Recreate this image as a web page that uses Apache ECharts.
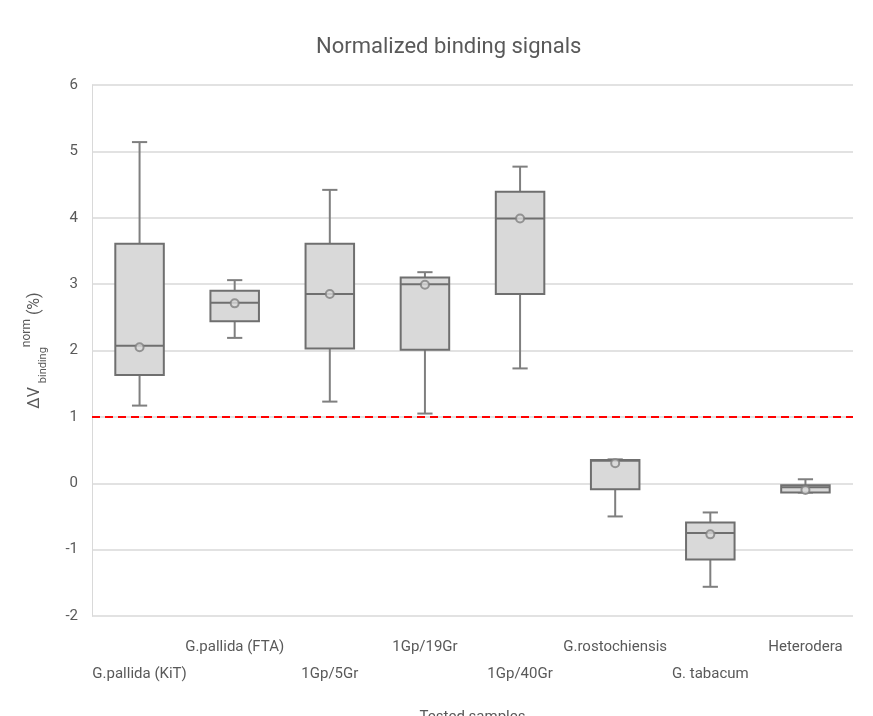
<!DOCTYPE html>
<html>
<head>
<meta charset="utf-8">
<script src="https://cdn.jsdelivr.net/npm/echarts@6/dist/echarts.min.js"></script>
<style>html,body{margin:0;padding:0;background:#fff;}#c{width:873px;height:716px;}</style>
</head>
<body>
<div id="c"></div>
<script>
const categories = ['G.pallida (KiT)','G.pallida (FTA)','1Gp/5Gr','1Gp/19Gr','1Gp/40Gr','G.rostochiensis','G. tabacum','Heterodera'];
const whiskerLow  = [1.17, 2.19, 1.23, 1.05, 1.73, -0.50, -1.56, -0.14];
const q1          = [1.63, 2.44, 2.03, 2.01, 2.85, -0.09, -1.15, -0.14];
const median      = [2.07, 2.72, 2.85, 3.00, 3.99, 0.34, -0.75, -0.06];
const q3          = [3.61, 2.90, 3.61, 3.10, 4.39, 0.35, -0.59, -0.03];
const whiskerHigh = [5.14, 3.06, 4.42, 3.18, 4.77, 0.36, -0.44, 0.06];
const means       = [2.05, 2.71, 2.85, 2.99, 3.99, 0.30, -0.77, -0.10];
const threshold = 1;
const yTicks = [-2, -1, 0, 1, 2, 3, 4, 5, 6];

const FONT = "'Roboto', sans-serif";
const TXT = '#595959';

const boxData = categories.map((c, i) => [i, whiskerLow[i], q1[i], median[i], q3[i], whiskerHigh[i]]);
const meanData = categories.map((c, i) => [i, means[i]]);

function renderBox(params, api) {
  const x = api.value(0);
  const lo = api.coord([x, api.value(1)]);
  const b1 = api.coord([x, api.value(2)]);
  const md = api.coord([x, api.value(3)]);
  const b3 = api.coord([x, api.value(4)]);
  const hi = api.coord([x, api.value(5)]);
  const band = api.size([1, 0])[0];
  const bw = band * 0.51;
  const cw = band * 0.16;
  const cx = lo[0];
  const ws = { stroke: '#7f7f7f', lineWidth: 2 };
  const bs = { fill: '#d9d9d9', stroke: '#6f6f6f', lineWidth: 2 };
  return {
    type: 'group',
    children: [
      { type: 'line', shape: { x1: cx, y1: hi[1], x2: cx, y2: b3[1] }, style: ws },
      { type: 'line', shape: { x1: cx, y1: b1[1], x2: cx, y2: lo[1] }, style: ws },
      { type: 'line', shape: { x1: cx - cw / 2, y1: hi[1], x2: cx + cw / 2, y2: hi[1] }, style: ws },
      { type: 'line', shape: { x1: cx - cw / 2, y1: lo[1], x2: cx + cw / 2, y2: lo[1] }, style: ws },
      { type: 'rect', shape: { x: cx - bw / 2, y: b3[1], width: bw, height: b1[1] - b3[1] }, style: bs },
      { type: 'line', shape: { x1: cx - bw / 2, y1: md[1], x2: cx + bw / 2, y2: md[1] }, style: { stroke: '#6f6f6f', lineWidth: 2 } }
    ]
  };
}

const chart = echarts.init(document.getElementById('c'), null, { renderer: 'canvas' });
chart.setOption({
  animation: false,
  backgroundColor: '#fff',
  title: {
    text: 'Normalized binding signals',
    left: 311,
    top: 31,
    textStyle: { fontFamily: FONT, fontSize: 22, fontWeight: 'normal', color: TXT }
  },
  grid: { left: 92, right: 20, top: 85, bottom: 100, containLabel: false, outerBoundsMode: 'none' },
  xAxis: {
    type: 'category',
    data: categories,
    name: 'Tested samples',
    nameLocation: 'middle',
    nameGap: 94,
    nameTextStyle: { fontFamily: FONT, fontSize: 15, color: TXT },
    axisLine: { show: false },
    axisTick: { show: false },
    splitLine: { show: false },
    axisLabel: {
      interval: 0,
      margin: 18,
      fontFamily: FONT,
      fontSize: 15,
      color: TXT,
      lineHeight: 27,
      formatter: (v, i) => (i % 2 === 0 ? '\n' + v : v)
    }
  },
  yAxis: {
    type: 'value',
    min: yTicks[0],
    max: yTicks[yTicks.length - 1],
    interval: 1,
    name: '{m|ΔV }{sub|binding}{sup|norm}{m| (%)}',
    nameLocation: 'middle',
    nameGap: 43,
    nameTextStyle: {
      rich: {
        m: { fontFamily: FONT, fontSize: 16, color: TXT, lineHeight: 28, verticalAlign: 'middle' },
        sub: { fontFamily: FONT, fontSize: 11, color: TXT, lineHeight: 11, verticalAlign: 'bottom' },
        sup: { fontFamily: FONT, fontSize: 12, color: TXT, lineHeight: 12, verticalAlign: 'top' }
      }
    },
    axisLine: { show: true, lineStyle: { color: '#d9d9d9', width: 1 } },
    axisTick: { show: false },
    splitLine: { lineStyle: { color: '#d9d9d9', width: 1.5 } },
    axisLabel: { margin: 14, fontFamily: FONT, fontSize: 15, color: TXT }
  },
  series: [
    {
      type: 'custom',
      name: 'box',
      renderItem: renderBox,
      data: boxData,
      encode: { x: 0, y: [1, 2, 3, 4, 5] },
      z: 2
    },
    {
      type: 'scatter',
      name: 'mean',
      data: meanData,
      symbol: 'circle',
      symbolSize: 8,
      itemStyle: { color: '#d9d9d9', borderColor: '#7f7f7f', borderWidth: 2 },
      z: 5,
      markLine: {
        silent: true,
        symbol: 'none',
        label: { show: false },
        lineStyle: { color: '#ff0000', type: [8, 5], width: 2 },
        data: [{ yAxis: threshold }],
        z: 1
      }
    }
  ]
});
</script>
</body>
</html>
